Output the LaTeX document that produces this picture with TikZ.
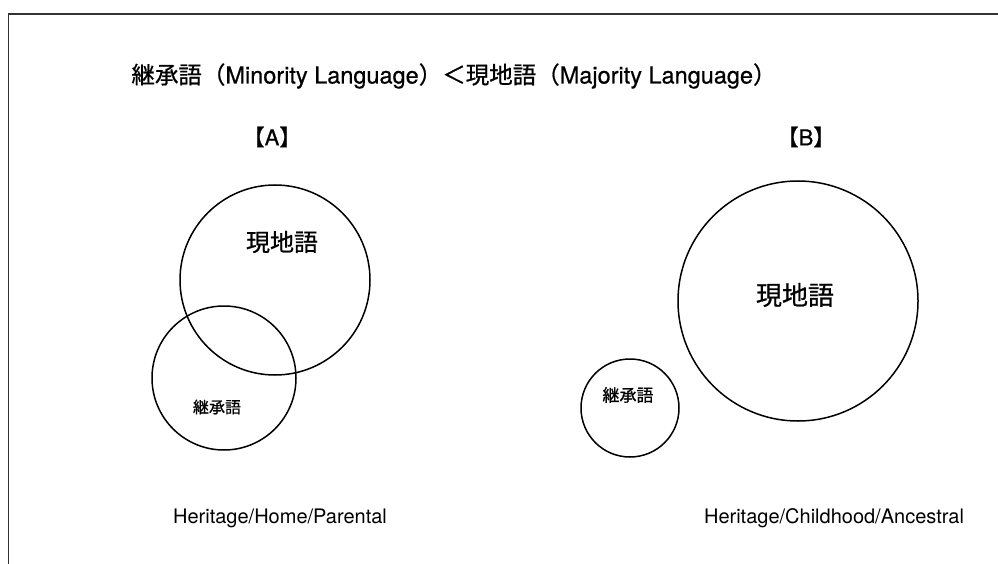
\documentclass[tikz,border=0pt]{standalone}
\usepackage{fontspec}
\setmainfont{TeX Gyre Heros}
\newfontfamily\cjk[FakeBold=0.8]{Noto Sans CJK JP}
\newfontfamily\heavylat[FakeBold=0.6]{TeX Gyre Heros}
\begin{document}
\begin{tikzpicture}[x=1pt,y=-1pt,
  ring/.style={draw=black,line width=1.5pt,circle,inner sep=0pt},
  lbl/.style={inner sep=0pt,text=black},
  frameline/.style={draw=black!80,line width=1.8pt}]
\useasboundingbox (0,0) rectangle (998,564);
% frame
\coordinate (tl) at (8.5,14);
\coordinate (tr) at (998,14);
\coordinate (bl) at (8.5,564);
\draw[frameline] (tr) -- (tl) -- (bl);
% title
\node[lbl,font=\heavylat\fontsize{23.5}{27}\selectfont] (title) at (454,76)
  {{\cjk 継承語（}Minority Language{\cjk ）＜現地語（}Majority Language{\cjk ）}};
% panel headings
\node[lbl,font=\heavylat\fontsize{22}{26}\selectfont] (hA) at (272,137) {{\cjk 【}A{\cjk 】}};
\node[lbl,font=\heavylat\fontsize{22}{26}\selectfont] (hB) at (806,137) {{\cjk 【}B{\cjk 】}};
% panel A
\node[ring,minimum size=190pt] (majA) at (275,280) {};
\node[ring,minimum size=144pt] (minA) at (224,378) {};
\node[lbl,font=\cjk\fontsize{24}{28}\selectfont] (tmajA) at (282,242) {現地語};
\node[lbl,font=\cjk\fontsize{16}{20}\selectfont] (tminA) at (217,407) {継承語};
% panel B
\node[ring,minimum size=240pt] (majB) at (798,301) {};
\node[ring,minimum size=98pt] (minB) at (630,408) {};
\node[lbl,font=\cjk\fontsize{26}{30}\selectfont] (tmajB) at (795,295) {現地語};
\node[lbl,font=\cjk\fontsize{17}{20}\selectfont] (tminB) at (628,395) {継承語};
% captions
\node[lbl,font=\fontsize{20}{24}\selectfont] (capA) at (280,518) {Heritage/Home/Parental};
\node[lbl,font=\fontsize{20}{24}\selectfont] (capB) at (834,518) {Heritage/Childhood/Ancestral};
\end{tikzpicture}
\end{document}
